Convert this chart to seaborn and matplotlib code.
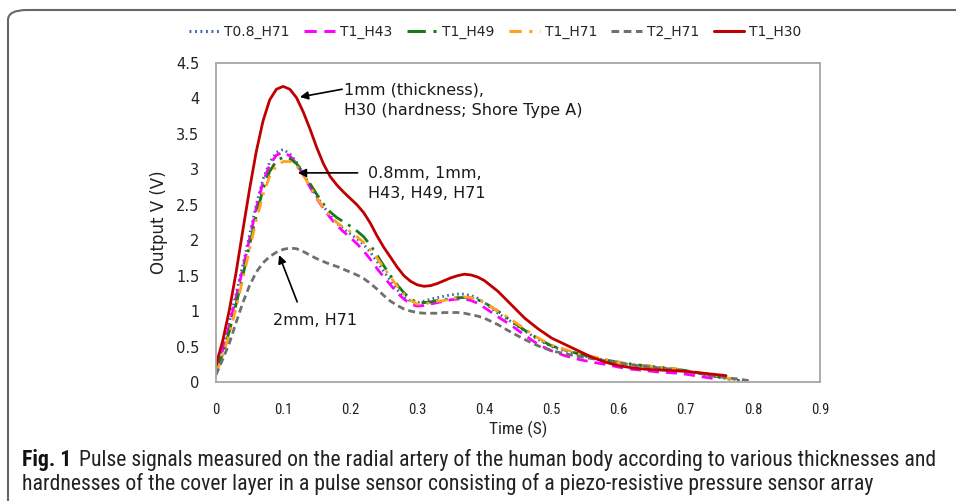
import numpy as np
import pandas as pd
import matplotlib
matplotlib.use("Agg")
import matplotlib.pyplot as plt
import seaborn as sns
from matplotlib import font_manager as fm
from matplotlib.patches import FancyBboxPatch
from matplotlib.lines import Line2D

# ---------------- data ----------------
time = [0.00, 0.01, 0.02, 0.03, 0.04, 0.05, 0.06, 0.07, 0.08, 0.09,
        0.10, 0.11, 0.12, 0.13, 0.14, 0.15, 0.16, 0.17, 0.18, 0.19,
        0.20, 0.21, 0.22, 0.23, 0.24, 0.25, 0.26, 0.27, 0.28, 0.29,
        0.30, 0.31, 0.32, 0.33, 0.34, 0.35, 0.36, 0.37, 0.38, 0.39,
        0.40, 0.42, 0.44, 0.46, 0.48, 0.50, 0.52, 0.54, 0.56, 0.58,
        0.60, 0.62, 0.64, 0.66, 0.68, 0.70, 0.72, 0.74, 0.76, 0.78, 0.80]

t08_h71 = [0.20, 0.48, 0.85, 1.25, 1.65, 2.08, 2.50, 2.86, 3.10, 3.24,
           3.28, 3.22, 3.10, 2.94, 2.78, 2.62, 2.48, 2.35, 2.24, 2.16,
           2.09, 2.02, 1.94, 1.83, 1.70, 1.56, 1.43, 1.30, 1.20, 1.14,
           1.12, 1.14, 1.17, 1.19, 1.21, 1.23, 1.24, 1.24, 1.22, 1.18,
           1.12, 0.97, 0.85, 0.72, 0.60, 0.50, 0.44, 0.39, 0.34, 0.31,
           0.27, 0.24, 0.22, 0.20, 0.18, 0.15, 0.12, 0.08, 0.05, 0.02, None]
t1_h43 = [0.18, 0.45, 0.80, 1.20, 1.60, 2.02, 2.45, 2.82, 3.06, 3.20,
          3.24, 3.19, 3.08, 2.92, 2.75, 2.59, 2.45, 2.32, 2.21, 2.12,
          2.04, 1.95, 1.85, 1.73, 1.60, 1.48, 1.37, 1.26, 1.17, 1.10,
          1.07, 1.08, 1.10, 1.12, 1.14, 1.16, 1.17, 1.17, 1.15, 1.11,
          1.05, 0.92, 0.80, 0.66, 0.53, 0.44, 0.37, 0.32, 0.28, 0.25,
          0.21, 0.18, 0.16, 0.14, 0.13, 0.11, 0.08, 0.05, None, None, None]
t1_h49 = [0.15, 0.40, 0.72, 1.10, 1.50, 1.93, 2.35, 2.72, 2.97, 3.12,
          3.17, 3.15, 3.08, 2.95, 2.80, 2.65, 2.51, 2.40, 2.32, 2.26,
          2.20, 2.13, 2.05, 1.93, 1.79, 1.64, 1.50, 1.37, 1.26, 1.17,
          1.12, 1.12, 1.13, 1.15, 1.16, 1.18, 1.19, 1.19, 1.19, 1.16,
          1.12, 1.00, 0.86, 0.73, 0.61, 0.51, 0.45, 0.40, 0.35, 0.31,
          0.28, 0.25, 0.23, 0.21, 0.19, 0.16, 0.13, 0.09, 0.05, 0.02, None]
t1_h71 = [0.12, 0.37, 0.68, 1.05, 1.45, 1.87, 2.28, 2.64, 2.90, 3.05,
          3.11, 3.11, 3.05, 2.92, 2.76, 2.60, 2.46, 2.34, 2.25, 2.18,
          2.12, 2.05, 1.97, 1.87, 1.75, 1.61, 1.48, 1.35, 1.24, 1.15,
          1.10, 1.10, 1.12, 1.14, 1.15, 1.17, 1.19, 1.20, 1.19, 1.16,
          1.12, 1.00, 0.88, 0.75, 0.62, 0.52, 0.46, 0.40, 0.36, 0.32,
          0.28, 0.25, 0.23, 0.21, 0.19, 0.16, 0.13, 0.10, 0.06, 0.02, None]
t2_h71 = [0.10, 0.32, 0.55, 0.84, 1.12, 1.36, 1.55, 1.68, 1.77, 1.83,
          1.87, 1.89, 1.88, 1.84, 1.79, 1.74, 1.70, 1.66, 1.63, 1.59,
          1.55, 1.51, 1.46, 1.39, 1.31, 1.22, 1.14, 1.08, 1.03, 1.00,
          0.98, 0.97, 0.97, 0.97, 0.98, 0.98, 0.98, 0.97, 0.95, 0.93,
          0.90, 0.81, 0.70, 0.60, 0.51, 0.44, 0.40, 0.36, 0.33, 0.30,
          0.27, 0.24, 0.22, 0.20, 0.18, 0.15, 0.12, 0.09, 0.06, 0.04, 0.01]
t1_h30 = [0.24, 0.58, 1.02, 1.55, 2.14, 2.72, 3.25, 3.68, 3.98, 4.13,
          4.17, 4.13, 4.01, 3.81, 3.57, 3.31, 3.08, 2.90, 2.78, 2.68,
          2.59, 2.50, 2.39, 2.24, 2.06, 1.90, 1.76, 1.62, 1.50, 1.42,
          1.37, 1.35, 1.36, 1.39, 1.43, 1.47, 1.50, 1.52, 1.51, 1.48,
          1.43, 1.28, 1.09, 0.90, 0.75, 0.62, 0.53, 0.44, 0.35, 0.28,
          0.23, 0.20, 0.18, 0.17, 0.16, 0.15, 0.13, 0.11, 0.09, None, None]

series_names = ["T0.8_H71", "T1_H43", "T1_H49", "T1_H71", "T2_H71", "T1_H30"]
series_values = [t08_h71, t1_h43, t1_h49, t1_h71, t2_h71, t1_h30]

x_ticks = [0, 0.1, 0.2, 0.3, 0.4, 0.5, 0.6, 0.7, 0.8, 0.9]
x_tick_labels = ["0", "0.1", "0.2", "0.3", "0.4", "0.5", "0.6", "0.7", "0.8", "0.9"]
y_ticks = [0, 0.5, 1, 1.5, 2, 2.5, 3, 3.5, 4, 4.5]
y_tick_labels = ["0", "0.5", "1", "1.5", "2", "2.5", "3", "3.5", "4", "4.5"]

rows = []
for name, vals in zip(series_names, series_values):
    for t, v in zip(time, vals):
        if v is not None:
            rows.append({"Time": t, "Output": v, "Series": name})
df = pd.DataFrame(rows)

# ---------------- styles ----------------
palette = {"T0.8_H71": "#3A64B0", "T1_H43": "#FF00FF", "T1_H49": "#1A7A1A",
           "T1_H71": "#FFA21F", "T2_H71": "#707070", "T1_H30": "#C00000"}
dashes = {"T0.8_H71": (0.6, 1.2), "T1_H43": (4, 2.5), "T1_H49": (6, 2.5, 1, 2.5),
          "T1_H71": (4, 2.5, 1, 2.5), "T2_H71": (2.5, 1.5), "T1_H30": ""}

sns.set_theme(style="white")
names = {f.name for f in fm.fontManager.ttflist}
base_font = "DejaVu Sans"
narrow_font = None
for cand in ["Liberation Sans Narrow", "Roboto Condensed", "Open Sans Condensed", "DejaVu Sans Condensed"]:
    if cand in names:
        narrow_font = cand
        break
if narrow_font is None:
    narrow_font = "Roboto"
plt.rcParams["font.family"] = [base_font]

fig = plt.figure(figsize=(9.56, 5.01), dpi=100)
ax = fig.add_axes([216 / 956, 1 - 382 / 501, 604 / 956, 319 / 501])

sns.lineplot(data=df, x="Time", y="Output", hue="Series", style="Series",
             hue_order=series_names, style_order=series_names,
             palette=palette, dashes=dashes, estimator=None, sort=True,
             linewidth=2.0, ax=ax, legend=False)

ax.set_xlim(0, 0.9)
ax.set_ylim(0, 4.5)
ax.set_xticks(x_ticks)
ax.set_xticklabels(x_tick_labels, fontfamily=narrow_font, fontsize=10.5, color="#222222")
ax.set_yticks(y_ticks)
ax.set_yticklabels(y_tick_labels, fontsize=10.5, color="#222222")
ax.tick_params(axis="x", length=0, pad=15)
ax.tick_params(axis="y", length=0, pad=12)
ax.set_xlabel("Time (S)", fontfamily=narrow_font, fontsize=12.5, color="#222222", labelpad=3)
ax.set_ylabel("Output V (V)", fontsize=12, color="#222222", labelpad=6)
for sp in ax.spines.values():
    sp.set_color("#A6A6A6")
    sp.set_linewidth(1.3)
    sp.set_visible(True)

# annotations (text + arrows)
txt_kw = dict(fontsize=11.5, color="#1a1a1a", va="center", ha="left", linespacing=1.45)
arr_kw = dict(arrowstyle="-|>", color="black", lw=1.2, mutation_scale=12, shrinkA=0, shrinkB=0)
ax.text(0.190, 3.98, "1mm (thickness),\nH30 (hardness; Shore Type A)", **txt_kw)
ax.annotate("", xy=(0.125, 4.02), xytext=(0.188, 4.13), arrowprops=arr_kw)
ax.text(0.227, 2.8, "0.8mm, 1mm,\nH43, H49, H71", **txt_kw)
ax.annotate("", xy=(0.122, 2.95), xytext=(0.211, 2.95), arrowprops=arr_kw)
ax.text(0.085, 0.87, "2mm, H71", **txt_kw)
ax.annotate("", xy=(0.094, 1.79), xytext=(0.121, 1.13), arrowprops=arr_kw)

# legend
handles = [Line2D([], [], color=palette[n], lw=2.2,
                  linestyle=(0, dashes[n]) if dashes[n] else "-") for n in series_names]
fig.legend(handles, series_names, loc="center", bbox_to_anchor=(0.518, 1 - 32 / 501),
           ncol=6, frameon=False, prop={"family": "DejaVu Sans", "size": 10},
           handlelength=2.2, handletextpad=0.35, columnspacing=1.05)

# frame
frame = FancyBboxPatch((8 / 956, -0.2), 1.2, 1.2 - 10 / 501,
                       boxstyle="round,pad=0,rounding_size=0.02",
                       transform=fig.transFigure, fill=False,
                       edgecolor="#666666", lw=1.5, clip_on=False)
fig.patches.append(frame)

# caption
fig.canvas.draw()
renderer = fig.canvas.get_renderer()
cap1 = "Pulse signals measured on the radial artery of the human body according to various thicknesses and"
cap2 = "hardnesses of the cover layer in a pulse sensor consisting of a piezo-resistive pressure sensor array"
fs = 13
for _ in range(3):
    tb = fig.text(22 / 956, 1 - 460 / 501, "Fig. 1", fontfamily=narrow_font, fontweight="bold",
                  fontsize=fs, va="center", ha="left", color="#111111")
    bw = tb.get_window_extent(renderer).width
    tr = fig.text((22 + bw + 8) / 956, 1 - 460 / 501, cap1, fontfamily=narrow_font,
                  fontsize=fs, va="center", ha="left", color="#111111")
    rw = tr.get_window_extent(renderer).x1
    tb.remove(); tr.remove()
    fs = fs * (938 - 22 - 8) / (rw - 22 - 8 + 1e-9) if rw > 0 else fs
tb = fig.text(22 / 956, 1 - 460 / 501, "Fig. 1", fontfamily=narrow_font, fontweight="bold",
              fontsize=fs, va="center", ha="left", color="#111111")
bw = tb.get_window_extent(renderer).width
fig.text((22 + bw + 8) / 956, 1 - 460 / 501, cap1, fontfamily=narrow_font,
         fontsize=fs, va="center", ha="left", color="#222222")
fig.text(22 / 956, 1 - 484 / 501, cap2, fontfamily=narrow_font,
         fontsize=fs, va="center", ha="left", color="#222222")

fig.savefig("out.png", dpi=100)
